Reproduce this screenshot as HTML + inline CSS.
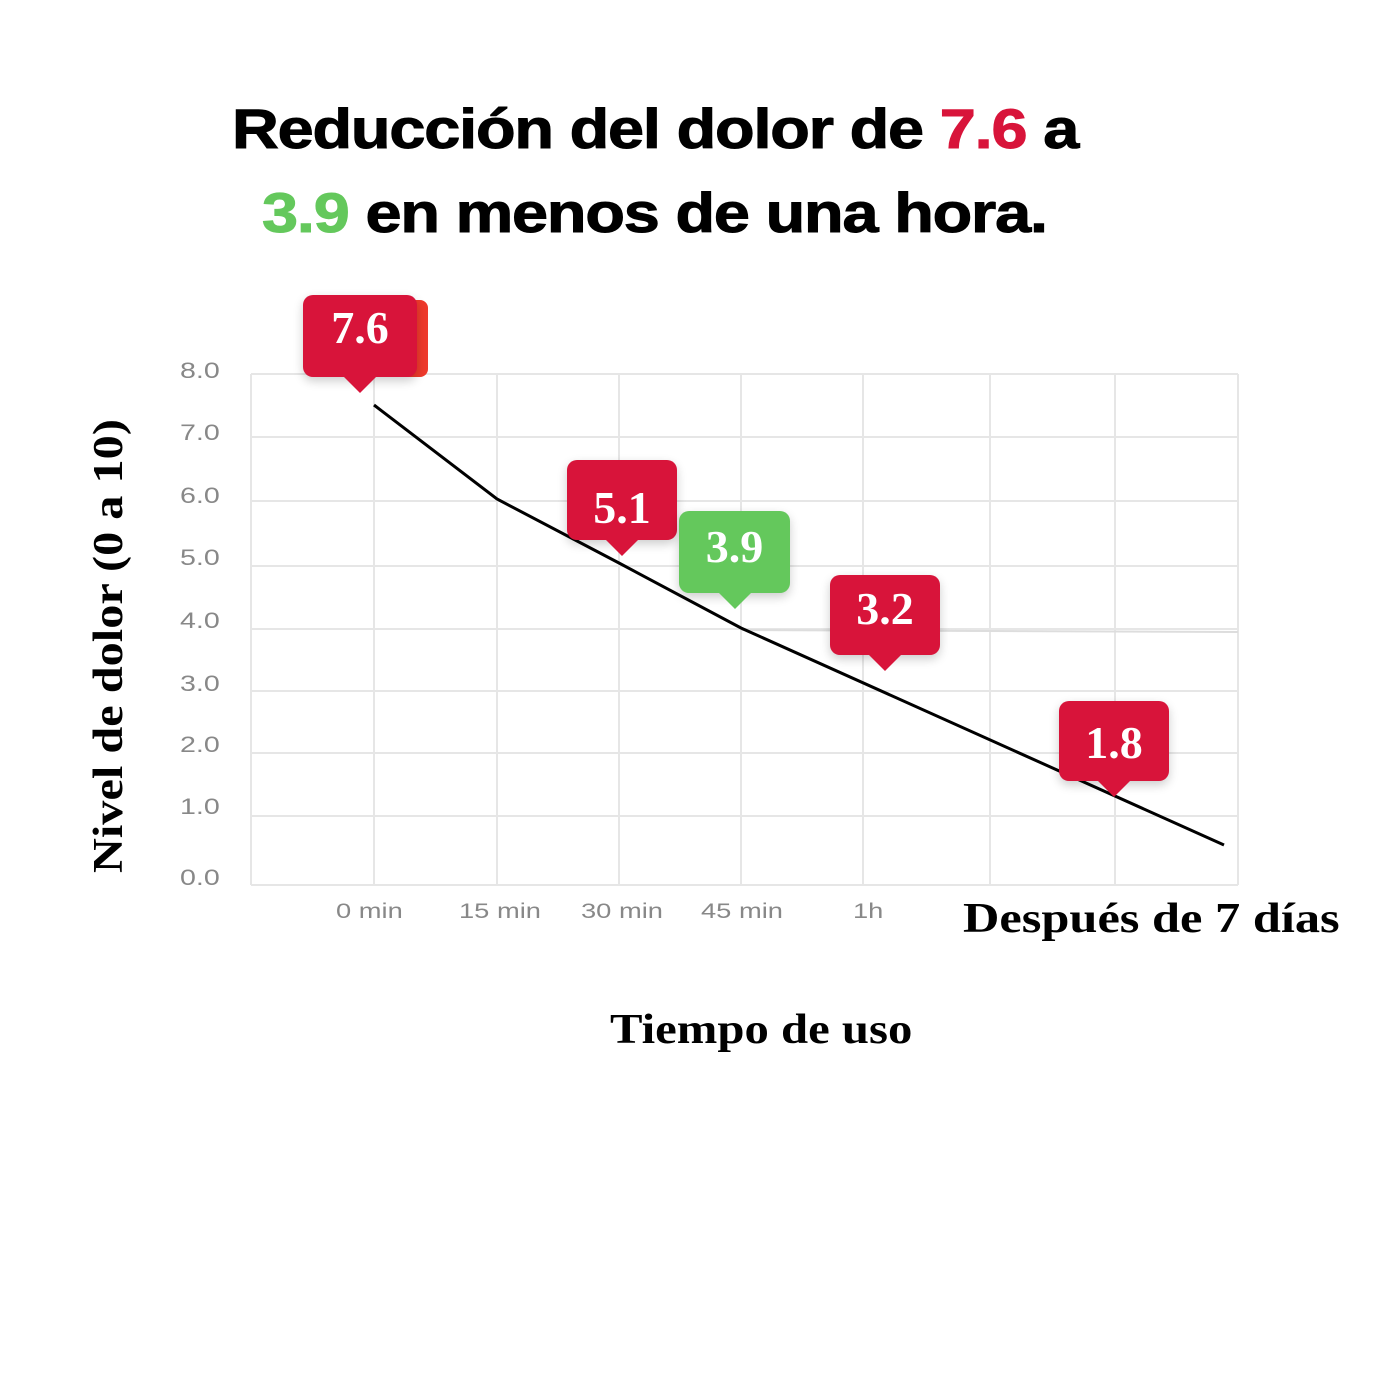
<!DOCTYPE html>
<html><head><meta charset="utf-8"><style>
body{margin:0;width:1400px;height:1400px;background:#fff;position:relative;overflow:hidden}
.t{position:absolute;font-family:"Liberation Sans",sans-serif;font-weight:bold;font-size:56px;color:#000;white-space:nowrap;letter-spacing:-1px;transform:scaleX(1.157);transform-origin:0 0;-webkit-text-stroke:1px currentColor}
.yl{position:absolute;font-family:"Liberation Sans",sans-serif;font-size:22px;color:#888;transform:scaleX(1.3);transform-origin:0 0}
.xl{position:absolute;font-family:"Liberation Sans",sans-serif;font-size:21px;color:#888;transform:scaleX(1.3);transform-origin:0 0}
.ser{position:absolute;font-family:"Liberation Serif",serif;font-weight:bold;color:#000;white-space:nowrap}
.c{position:absolute;border-radius:10px;color:#fff;font-family:"Liberation Serif",serif;font-weight:bold;font-size:46px;text-align:center;box-shadow:0 4px 10px rgba(0,0,0,.2)}
.c::after{content:"";position:absolute;left:50%;margin-left:-17px;bottom:-16px;border-left:17px solid transparent;border-right:17px solid transparent;border-top:17px solid var(--b)}
</style></head><body>
<div class="t" style="left:232px;top:96px">Reducción del dolor de <span style="color:#d8143a">7.6</span> a</div>
<div class="t" style="left:262px;top:180px"><span style="color:#64c85c">3.9</span> en menos de una hora.</div>
<svg width="1400" height="1400" style="position:absolute;left:0;top:0">
<g stroke="#e6e6e6" stroke-width="2" fill="none">
<line x1="251" y1="374" x2="1238" y2="374"/><line x1="251" y1="437" x2="1238" y2="437"/><line x1="251" y1="501" x2="1238" y2="501"/><line x1="251" y1="566" x2="1238" y2="566"/><line x1="251" y1="629" x2="1238" y2="629"/><line x1="251" y1="691" x2="1238" y2="691"/><line x1="251" y1="753" x2="1238" y2="753"/><line x1="251" y1="816" x2="1238" y2="816"/><line x1="251" y1="885" x2="1238" y2="885"/>
<line x1="251" y1="374" x2="251" y2="885"/><line x1="374" y1="374" x2="374" y2="885"/><line x1="497" y1="374" x2="497" y2="885"/><line x1="619" y1="374" x2="619" y2="885"/><line x1="741" y1="374" x2="741" y2="885"/><line x1="863" y1="374" x2="863" y2="885"/><line x1="990" y1="374" x2="990" y2="885"/><line x1="1115" y1="374" x2="1115" y2="885"/><line x1="1238" y1="374" x2="1238" y2="885"/>
</g>
<line x1="741" y1="630" x2="1238" y2="632" stroke="#ddd" stroke-width="2"/>
<polyline points="374,405 497,499 619,563 741,628 1224,845" fill="none" stroke="#000" stroke-width="3"/>
</svg>
<div class="yl" style="left:180px;top:358px">8.0</div><div class="yl" style="left:180px;top:420px">7.0</div><div class="yl" style="left:180px;top:483px">6.0</div><div class="yl" style="left:180px;top:545px">5.0</div><div class="yl" style="left:180px;top:608px">4.0</div><div class="yl" style="left:180px;top:671px">3.0</div><div class="yl" style="left:180px;top:732px">2.0</div><div class="yl" style="left:180px;top:794px">1.0</div><div class="yl" style="left:180px;top:865px">0.0</div>
<div class="xl" style="left:336px;top:900px">0 min</div><div class="xl" style="left:459px;top:900px">15 min</div><div class="xl" style="left:581px;top:900px">30 min</div><div class="xl" style="left:701px;top:900px">45 min</div><div class="xl" style="left:853px;top:900px">1h</div>
<div class="ser" style="left:963px;top:895px;font-size:42px;transform:scaleX(1.2);transform-origin:0 0">Después de 7 días</div>
<div class="ser" style="left:610px;top:1006px;font-size:42px;transform:scaleX(1.16);transform-origin:0 0">Tiempo de uso</div>
<div class="ser" style="left:85px;top:873px;font-size:42px;transform:rotate(-90deg) scaleX(1.15);transform-origin:0 0">Nivel de dolor (0 a 10)</div>
<div style="position:absolute;left:320px;top:300px;width:108px;height:77px;background:#ee3a2c;border-radius:8px"></div>
<div class="c" style="--b:#d8143a;background:#d8143a;left:303px;top:295px;width:114px;height:82px;line-height:66px">7.6</div>
<div class="c" style="--b:#d8143a;background:#d8143a;left:567px;top:460px;width:110px;height:80px;line-height:96px">5.1</div>
<div class="c" style="--b:#64c85c;background:#64c85c;left:679px;top:511px;width:111px;height:82px;line-height:72px">3.9</div>
<div class="c" style="--b:#d8143a;background:#d8143a;left:830px;top:575px;width:110px;height:80px;line-height:68px">3.2</div>
<div class="c" style="--b:#d8143a;background:#d8143a;left:1059px;top:701px;width:110px;height:80px;line-height:84px">1.8</div>
</body></html>
